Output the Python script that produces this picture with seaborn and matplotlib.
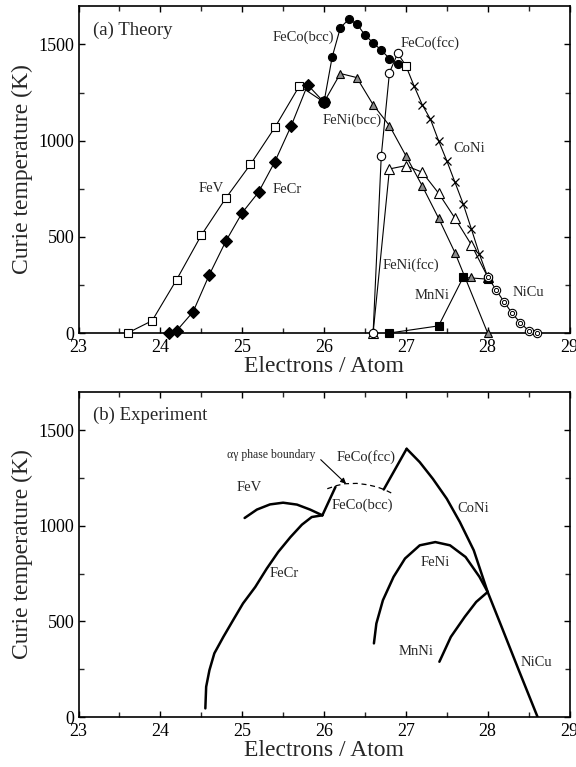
import matplotlib
matplotlib.use('Agg')
import matplotlib.pyplot as plt
import seaborn as sns
from matplotlib.ticker import MultipleLocator

sns.set_style('ticks')
plt.rcParams['font.family'] = ['Liberation Serif', 'DejaVu Serif']

# ---------------- (a) Theory data ----------------
fev_x = [23.6, 23.9, 24.2, 24.5, 24.8, 25.1, 25.4, 25.7, 26.0]
fev_y = [0, 64, 278, 508, 701, 876, 1069, 1285, 1200]
fecr_x = [24.1, 24.2, 24.4, 24.6, 24.8, 25.0, 25.2, 25.4, 25.6, 25.8, 26.0]
fecr_y = [0, 12, 110, 304, 477, 625, 732, 891, 1078, 1290, 1200]
fecob_x = [26.0, 26.1, 26.2, 26.3, 26.4, 26.5, 26.6, 26.7, 26.8, 26.9]
fecob_y = [1200, 1435, 1587, 1630, 1608, 1549, 1509, 1470, 1427, 1397]
fecof_x = [26.6, 26.7, 26.8, 26.9, 27.0]
fecof_y = [0, 922, 1354, 1454, 1390]
fenib_x = [26.0, 26.2, 26.4, 26.6, 26.8, 27.0, 27.2, 27.4, 27.6, 28.0]
fenib_y = [1200, 1349, 1328, 1187, 1078, 922, 765, 597, 418, 0]
fenif_x = [26.6, 26.8, 27.0, 27.2, 27.4, 27.6, 27.8, 28.0]
fenif_y = [0, 853, 870, 836, 727, 597, 459, 292]
coni_x = [27.0, 27.1, 27.2, 27.3, 27.4, 27.5, 27.6, 27.7, 27.8, 27.9, 28.0]
coni_y = [1390, 1285, 1187, 1112, 1000, 896, 784, 672, 542, 409, 292]
nicu_x = [28.0, 28.1, 28.2, 28.3, 28.4, 28.5, 28.6]
nicu_y = [292, 226, 162, 102, 53, 12, 0]
mnni_x = [26.8, 27.4, 27.7, 28.0]
mnni_y = [0, 37, 289, 280]
extra_tri_x = [27.8]
extra_tri_y = [289]
fe_x = [26.0]
fe_y = [1200]
co_x = [27.0]
co_y = [1390]

# ---------------- (b) Experiment data ----------------
e_fecr_x = [24.55, 24.56, 24.60, 24.66, 24.77, 24.89, 25.01, 25.16, 25.30, 25.44, 25.59, 25.73, 25.85, 25.98]
e_fecr_y = [45, 158, 245, 333, 419, 507, 594, 680, 776, 863, 941, 1006, 1046, 1055]
e_fev_x = [25.03, 25.18, 25.34, 25.50, 25.67, 25.83, 25.98]
e_fev_y = [1041, 1085, 1112, 1121, 1111, 1085, 1055]
e_fecob_x = [25.98, 26.14]
e_fecob_y = [1055, 1203]
e_bound_x = [26.04, 26.15, 26.25, 26.40, 26.53, 26.65, 26.74, 26.86]
e_bound_y = [1194, 1210, 1220, 1222, 1215, 1203, 1189, 1164]
e_fecof_x = [26.73, 27.01]
e_fecof_y = [1190, 1403]
e_coni_x = [27.01, 27.17, 27.33, 27.50, 27.66, 27.83, 28.00, 28.17, 28.38, 28.61]
e_coni_y = [1403, 1333, 1246, 1142, 1020, 872, 654, 472, 245, 0]
e_feni_x = [26.61, 26.64, 26.72, 26.85, 26.99, 27.17, 27.36, 27.54, 27.73, 27.90, 28.00]
e_feni_y = [385, 489, 611, 733, 829, 898, 915, 898, 837, 733, 654]
e_mnni_x = [27.41, 27.55, 27.72, 27.86, 28.00]
e_mnni_y = [289, 419, 524, 602, 654]

xticks = [23, 24, 25, 26, 27, 28, 29]
yticks = [0, 500, 1000, 1500]

fig = plt.figure(figsize=(5.76, 7.67), dpi=100)
ax1 = fig.add_axes([78.5 / 576, 1 - 333 / 767, 491 / 576, 327 / 767])
ax2 = fig.add_axes([78.5 / 576, 1 - 717 / 767, 491 / 576, 325 / 767])


def line(ax, x, y, **kw):
    kw.setdefault('color', 'black')
    kw.setdefault('linewidth', 0.8)
    kw.setdefault('clip_on', False)
    sns.lineplot(x=x, y=y, ax=ax, estimator=None, sort=False, **kw)


# ---- top panel ----
line(ax1, fev_x, fev_y, marker='s', markersize=6, markerfacecolor='white',
     markeredgecolor='black', markeredgewidth=0.8, zorder=3)
line(ax1, fecr_x, fecr_y, marker='D', markersize=6, markerfacecolor='black',
     markeredgecolor='black', markeredgewidth=0.8, zorder=3)
line(ax1, fenib_x, fenib_y, marker='^', markersize=6, markerfacecolor='0.55',
     markeredgecolor='black', markeredgewidth=0.8, zorder=3)
line(ax1, fenif_x, fenif_y, marker='^', markersize=6.5, markerfacecolor='white',
     markeredgecolor='black', markeredgewidth=0.8, zorder=3)
line(ax1, fecob_x, fecob_y, marker='o', markersize=5.8, markerfacecolor='black',
     markeredgecolor='black', markeredgewidth=0.8, zorder=4)
line(ax1, coni_x, coni_y, marker='x', markersize=6, markeredgecolor='black',
     markeredgewidth=0.9, markevery=list(range(1, len(coni_x) - 1)), zorder=3)
line(ax1, mnni_x, mnni_y, marker='s', markersize=6, markerfacecolor='black',
     markeredgecolor='black', markeredgewidth=0.8, zorder=4)
line(ax1, nicu_x, nicu_y, marker='o', markersize=6, markerfacecolor='white',
     markeredgecolor='black', markeredgewidth=0.8, zorder=4)
line(ax1, nicu_x, nicu_y, linestyle='', marker='o', markersize=3, markerfacecolor='white',
     markeredgecolor='black', markeredgewidth=0.7, zorder=5)
line(ax1, fecof_x, fecof_y, marker='o', markersize=6, markerfacecolor='white',
     markeredgecolor='black', markeredgewidth=0.8, markevery=list(range(0, len(fecof_x) - 1)),
     zorder=5)
line(ax1, extra_tri_x, extra_tri_y, linestyle='', marker='^', markersize=6,
     markerfacecolor='0.55', markeredgecolor='black', markeredgewidth=0.8, zorder=5)
line(ax1, co_x, co_y, linestyle='', marker='s', markersize=6, markerfacecolor='white',
     markeredgecolor='black', markeredgewidth=0.8, zorder=6)
line(ax1, fe_x, fe_y, linestyle='', marker='o', markersize=8, markerfacecolor='black',
     markeredgecolor='black', markeredgewidth=0.8, zorder=6)

lab = dict(fontsize=10.5, ha='center', va='center')
ax1.text(23.18, 1572, '(a) Theory', fontsize=13.5, ha='left', va='center')
ax1.text(25.75, 1536, 'FeCo(bcc)', **lab)
ax1.text(27.30, 1505, 'FeCo(fcc)', **lab)
ax1.text(26.34, 1105, 'FeNi(bcc)', **lab)
ax1.text(27.77, 960, 'CoNi', **lab)
ax1.text(24.62, 752, 'FeV', **lab)
ax1.text(25.55, 747, 'FeCr', **lab)
ax1.text(27.06, 353, 'FeNi(fcc)', **lab)
ax1.text(27.32, 197, 'MnNi', **lab)
ax1.text(28.50, 208, 'NiCu', **lab)

# ---- bottom panel ----
thick = dict(linewidth=1.8, clip_on=True)
line(ax2, e_fecr_x, e_fecr_y, **thick)
line(ax2, e_fev_x, e_fev_y, **thick)
line(ax2, e_fecob_x, e_fecob_y, **thick)
line(ax2, e_fecof_x, e_fecof_y, **thick)
line(ax2, e_coni_x, e_coni_y, **thick)
line(ax2, e_feni_x, e_feni_y, **thick)
line(ax2, e_mnni_x, e_mnni_y, **thick)
line(ax2, e_bound_x, e_bound_y, linewidth=0.9, linestyle=(0, (4, 3)))

ax2.annotate('', xy=(26.27, 1220), xytext=(25.96, 1346),
             arrowprops=dict(arrowstyle='-|>', lw=0.8, color='black', mutation_scale=8,
                             shrinkA=0, shrinkB=0))
ax2.text(23.18, 1577, '(b) Experiment', fontsize=13.5, ha='left', va='center')
ax2.text(25.36, 1368, 'αγ phase boundary', fontsize=8.5, ha='center', va='center')
ax2.text(25.09, 1201, 'FeV', **lab)
ax2.text(26.52, 1358, 'FeCo(fcc)', **lab)
ax2.text(26.47, 1107, 'FeCo(bcc)', **lab)
ax2.text(27.82, 1091, 'CoNi', **lab)
ax2.text(25.51, 752, 'FeCr', **lab)
ax2.text(27.36, 809, 'FeNi', **lab)
ax2.text(27.13, 345, 'MnNi', **lab)
ax2.text(28.59, 287, 'NiCu', **lab)

for ax in (ax1, ax2):
    ax.set_xlim(23, 29)
    ax.set_ylim(0, 1700)
    ax.set_xticks(xticks)
    ax.set_xticklabels([str(t) for t in xticks])
    ax.set_yticks(yticks)
    ax.set_yticklabels([str(t) for t in yticks])
    ax.xaxis.set_minor_locator(MultipleLocator(0.5))
    ax.yaxis.set_minor_locator(MultipleLocator(250))
    ax.tick_params(which='major', direction='in', top=True, right=True, length=4,
                   width=1, labelsize=13, pad=3, colors='black')
    ax.tick_params(which='minor', direction='in', top=True, right=True, length=3.5,
                   width=1)
    ax.tick_params(axis='x', which='major', pad=4)
    for sp in ax.spines.values():
        sp.set_linewidth(1.2)
        sp.set_color('black')
    ax.set_xlabel('Electrons / Atom', fontsize=17, labelpad=0)
    ax.set_ylabel('Curie temperature (K)', fontsize=17, labelpad=4)
    ax.grid(False)

fig.savefig('out.png', dpi=100)
